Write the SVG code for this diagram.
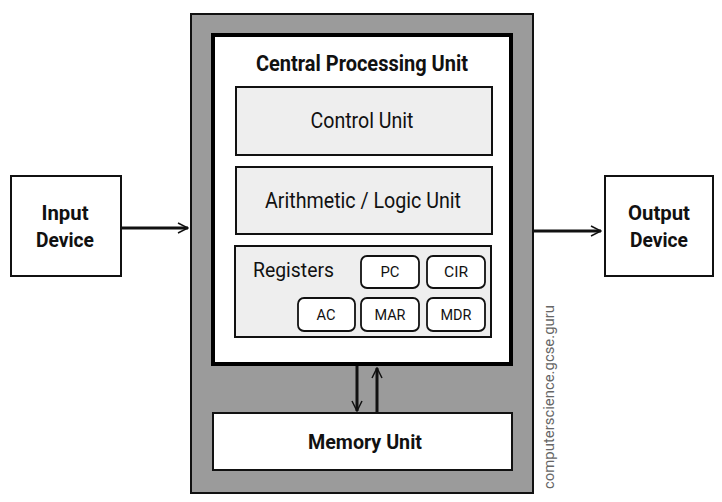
<svg xmlns="http://www.w3.org/2000/svg" width="722" height="502" viewBox="0 0 722 502">
<style>
text{font-family:Roboto,"Liberation Sans",sans-serif;fill:#111}
.b{font-weight:bold}
.box{fill:#fff;stroke:#111;stroke-width:2}
.sub{fill:#eeeeee;stroke:#111;stroke-width:2}
.reg{fill:#fff;stroke:#111;stroke-width:1.8}
.ln{stroke:#111;stroke-width:3;fill:none}
</style>
<defs>
<marker id="ah" viewBox="0 0 12 12" refX="11" refY="6" markerWidth="12" markerHeight="12" markerUnits="userSpaceOnUse" orient="auto">
<path d="M1,1 L11,6 L1,11" fill="none" stroke="#111" stroke-width="1.5"/>
</marker>
</defs>
<rect width="722" height="502" fill="#fff"/>
<g id="computer">
<rect x="191" y="14" width="342" height="479" fill="#9b9b9b" stroke="#111" stroke-width="2"/>
</g>
<g id="cpu">
<rect x="213" y="35" width="298" height="329" fill="#fff" stroke="#000" stroke-width="4"/>
<text x="362" y="71" class="b" font-size="22" text-anchor="middle" textLength="212" lengthAdjust="spacingAndGlyphs">Central Processing Unit</text>
</g>
<g id="control-unit">
<rect x="236" y="87" width="256" height="68" class="sub"/>
<text x="362" y="128" font-size="22" text-anchor="middle" textLength="103" lengthAdjust="spacingAndGlyphs">Control Unit</text>
</g>
<g id="alu">
<rect x="236" y="167" width="256" height="67" class="sub"/>
<text x="363" y="208" font-size="21.5" text-anchor="middle" textLength="196" lengthAdjust="spacingAndGlyphs">Arithmetic / Logic Unit</text>
</g>
<g id="registers">
<rect x="235" y="246" width="256" height="91" class="sub"/>
<text x="253" y="277" font-size="20" textLength="81" lengthAdjust="spacingAndGlyphs">Registers</text>
</g>
<g id="pc"><rect x="361" y="256" width="58" height="32" rx="6" class="reg"/><text x="390" y="277" font-size="14.5" text-anchor="middle" textLength="19" lengthAdjust="spacingAndGlyphs">PC</text></g>
<g id="cir"><rect x="427" y="256" width="58" height="32" rx="6" class="reg"/><text x="456" y="277" font-size="14.5" text-anchor="middle" textLength="24" lengthAdjust="spacingAndGlyphs">CIR</text></g>
<g id="ac"><rect x="298" y="298" width="57" height="33" rx="6" class="reg"/><text x="326" y="320" font-size="14.5" text-anchor="middle" textLength="19" lengthAdjust="spacingAndGlyphs">AC</text></g>
<g id="mar"><rect x="361" y="298" width="58" height="33" rx="6" class="reg"/><text x="390" y="320" font-size="14.5" text-anchor="middle" textLength="31" lengthAdjust="spacingAndGlyphs">MAR</text></g>
<g id="mdr"><rect x="427" y="298" width="58" height="33" rx="6" class="reg"/><text x="456" y="320" font-size="14.5" text-anchor="middle" textLength="31" lengthAdjust="spacingAndGlyphs">MDR</text></g>
<g id="memory-unit">
<rect x="213" y="413" width="299" height="57" class="box"/>
<text x="365" y="449" class="b" font-size="21" text-anchor="middle" textLength="114" lengthAdjust="spacingAndGlyphs">Memory Unit</text>
</g>
<g id="input-device">
<rect x="11" y="176" width="110" height="100" class="box"/>
<text x="65" y="220" class="b" font-size="20" text-anchor="middle" textLength="47" lengthAdjust="spacingAndGlyphs">Input</text>
<text x="65" y="247" class="b" font-size="20" text-anchor="middle" textLength="58" lengthAdjust="spacingAndGlyphs">Device</text>
</g>
<g id="output-device">
<rect x="605" y="176" width="108" height="100" class="box"/>
<text x="659" y="220" class="b" font-size="20" text-anchor="middle" textLength="62" lengthAdjust="spacingAndGlyphs">Output</text>
<text x="659" y="247" class="b" font-size="20" text-anchor="middle" textLength="58" lengthAdjust="spacingAndGlyphs">Device</text>
</g>
<g id="connectors">
<line x1="121" y1="228" x2="188" y2="228" class="ln" marker-end="url(#ah)"/>
<line x1="533" y1="231" x2="601" y2="231" class="ln" marker-end="url(#ah)"/>
<line x1="357" y1="366" x2="357" y2="411" class="ln" marker-end="url(#ah)"/>
<line x1="377" y1="413" x2="377" y2="368" class="ln" marker-end="url(#ah)"/>
</g>
<text transform="translate(554,489) rotate(-90)" font-size="15" style="fill:#666" textLength="184" lengthAdjust="spacingAndGlyphs">computerscience.gcse.guru</text>
</svg>
